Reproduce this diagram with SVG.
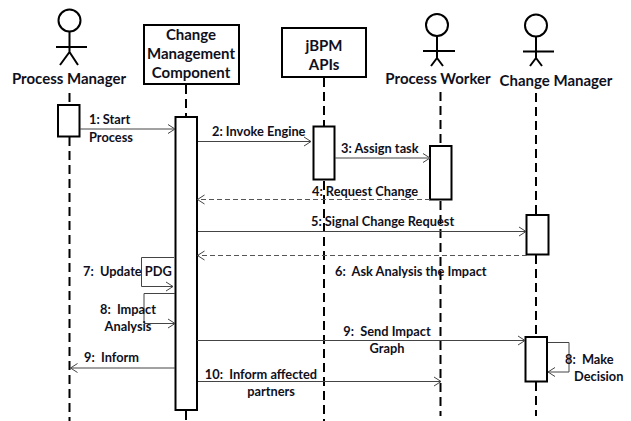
<svg xmlns="http://www.w3.org/2000/svg" width="631" height="421" viewBox="0 0 631 421">
<style>
text{font-family:"Lato","Open Sans","Liberation Sans",sans-serif;font-weight:700;fill:#10101c;white-space:pre}
.n{font-size:15px;text-anchor:middle}
.m{font-size:12.800px}
.mc{font-size:12.800px;text-anchor:middle}
.box{fill:#fff;stroke:#000;stroke-width:2}
.act{fill:#fff;stroke:#000;stroke-width:2}
.stick{fill:none;stroke:#000;stroke-width:2}
.life{fill:none;stroke:#000;stroke-width:2;stroke-dasharray:9 5}
.msg{fill:none;stroke:#444;stroke-width:1;marker-end:url(#a)}
.dash{stroke-dasharray:5 3;stroke:#555}
</style>
<defs>
<marker id="a" markerUnits="userSpaceOnUse" markerWidth="10" markerHeight="12" refX="8" refY="5" orient="auto" viewBox="0 0 10 10">
<path d="M1 0.500L8 5L1 9.500" fill="none" stroke="#444" stroke-width="1"/>
</marker>
</defs>
<rect width="631" height="421" fill="#fff"/>
<g id="lifelines">
<path class="life" d="M69.500 93V105M69.500 137V421"/>
<path class="life" d="M186 85V117M186 411V421"/>
<path class="life" d="M324 78V126M324 181V421"/>
<path class="life" d="M440.500 92V146M440.500 201V416"/>
<path class="life" d="M536 93V215M536 255V337M536 382V416"/>
</g>
<g id="process-manager">
<circle class="stick" cx="69.500" cy="20.500" r="11"/>
<path class="stick" d="M69.500 31.500V52M56 47H87M69.500 52L60 65M69.500 52L78 65"/>
<text class="n" x="69" y="84">Process Manager</text>
<rect class="act" x="58" y="105" width="21.500" height="31.500"/>
</g>
<g id="change-management-component">
<rect class="box" x="144" y="25" width="95" height="59"/>
<text class="n" x="191" y="39.500">Change</text>
<text class="n" x="191" y="58.500">Management</text>
<text class="n" x="191" y="77.500">Component</text>
<rect class="act" x="175.500" y="117" width="21.500" height="293"/>
</g>
<g id="jbpm-apis">
<rect class="box" x="282" y="28" width="84" height="49"/>
<text class="n" x="324" y="51">jBPM</text>
<text class="n" x="324" y="70">APIs</text>
<rect class="act" x="313.500" y="126.500" width="21" height="53"/>
</g>
<g id="process-worker">
<circle class="stick" cx="437" cy="25" r="11"/>
<path class="stick" d="M437 36V58M423 51H455M437 58L431 66M437 58L443 66"/>
<text class="n" x="438" y="84">Process Worker</text>
<rect class="act" x="430" y="146" width="21.500" height="53.500"/>
</g>
<g id="change-manager">
<circle class="stick" cx="536" cy="25.500" r="11"/>
<path class="stick" d="M536 36.500V58M523 51.500H554M536 58L530 66M536 58L542 66"/>
<text class="n" x="556" y="85.500">Change Manager</text>
<rect class="act" x="526.500" y="215" width="22" height="39.500"/>
<rect class="act" x="525.500" y="337" width="21.500" height="44.500"/>
</g>
<g id="connectors">
<path class="msg" d="M80 129H175"/>
<path class="msg" d="M198 141.500H311"/>
<path class="msg" d="M335 158H430"/>
<path class="msg dash" d="M430 199.500H197.500"/>
<path class="msg" d="M198 231.500H526"/>
<path class="msg dash" d="M527 255.500H197.500"/>
<path class="msg" d="M174 257.500H141.500V286.500H173"/>
<path class="msg" d="M175 293.500H144V323.500H175"/>
<path class="msg" d="M197 340.500H525"/>
<path class="msg" d="M175 368H70.500"/>
<path class="msg" d="M198 381.500H441"/>
<path class="msg" d="M548 342.500H569V372H548"/>
</g>
<g id="labels">
<text class="m" x="89" y="124">1: Start</text>
<text class="m" x="89" y="142">Process</text>
<text class="m" x="212" y="136">2: Invoke Engine</text>
<text class="m" x="341" y="153">3: Assign task</text>
<text class="m" x="312" y="196">4: Request Change</text>
<text class="m" x="311" y="226">5: Signal Change Request</text>
<text class="m" x="335" y="276">6:  Ask Analysis the Impact</text>
<text class="m" x="83" y="276">7:  Update PDG</text>
<text class="mc" x="128" y="314">8:  Impact</text>
<text class="mc" x="128" y="331">Analysis</text>
<text class="mc" x="387" y="336">9:  Send Impact</text>
<text class="mc" x="387" y="353">Graph</text>
<text class="m" x="84" y="362">9:  Inform</text>
<text class="mc" x="261" y="379">10:  Inform affected</text>
<text class="mc" x="271" y="396">partners</text>
<text class="m" x="565" y="364">8:  Make</text>
<text class="m" x="574" y="381">Decision</text>
</g>
</svg>
